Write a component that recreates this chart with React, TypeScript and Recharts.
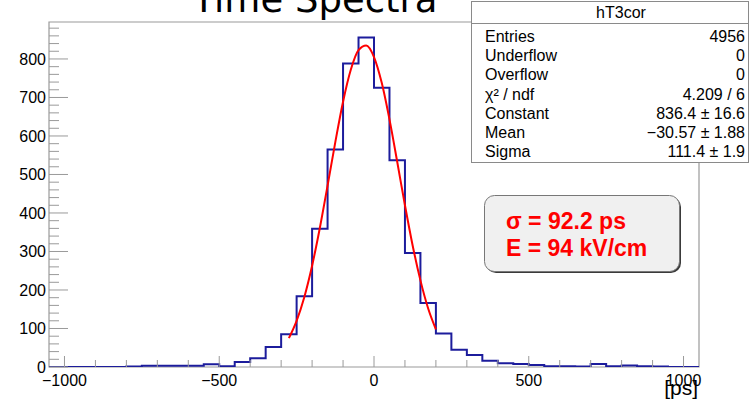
import React from "react";
import { ComposedChart, Line, XAxis, YAxis, ReferenceArea } from "recharts";

// bin edges of the histogram (50 ps bins)
const binEdges = [
  -1050, -1000, -950, -900, -850, -800, -750, -700, -650, -600, -550, -500, -450, -400,
  -350, -300, -250, -200, -150, -100, -50, 0, 50, 100, 150, 200, 250, 300, 350, 400, 450,
  500, 550, 600, 650, 700, 750, 800, 850, 900, 950, 1000, 1050,
];

// counts per bin
const counts = [
  0, 0, 0, 0, 0, 1, 3, 3, 3, 3, 7, 2, 13, 23, 52, 85, 184, 359, 565, 788, 856, 725, 537,
  296, 166, 87, 45, 31, 16, 10, 8, 5, 2, 2, 1, 8, 2, 4, 2, 1, 0, 0,
];

// gaussian fit curve
const fitX = [
  -275, -250, -225, -200, -175, -150, -125, -100, -75, -50, -25, 0, 25, 50, 75, 100, 125,
  150, 175, 200,
];
const fitY = [
  75, 120, 182, 263, 361, 471, 584, 689, 772, 823, 835, 805, 738, 643, 533, 420, 315, 225,
  152, 98,
];

const xTicks = [
  -1000, -900, -800, -700, -600, -500, -400, -300, -200, -100, 0, 100, 200, 300, 400, 500,
  600, 700, 800, 900, 1000,
];
const yTicks = [
  0, 20, 40, 60, 80, 100, 120, 140, 160, 180, 200, 220, 240, 260, 280, 300, 320, 340, 360,
  380, 400, 420, 440, 460, 480, 500, 520, 540, 560, 580, 600, 620, 640, 660, 680, 700, 720,
  740, 760, 780, 800, 820, 840, 860, 880,
];

const statsLabels = ["Entries", "Underflow", "Overflow", "χ² / ndf", "Constant", "Mean", "Sigma"];
const statsValues = ["4956", "0", "0", "4.209 / 6", "836.4 ± 16.6", "−30.57 ± 1.88", "111.4 ± 1.9"];

const W = 749;
const H = 401;
const FONT = "'Liberation Sans', Arial, Helvetica, sans-serif";
const AXIS = "#9a9a9a";

const histData = binEdges.map((x, i) => ({ x, count: i < counts.length ? counts[i] : 0 }));
const fitData = fitX.map((x, i) => ({ x, fit: fitY[i] }));

function fmt(v: number) {
  return v < 0 ? `\u2212${Math.abs(v)}` : `${v}`;
}

function YTick({ x, y, payload }: any) {
  const v = payload.value;
  const major = v % 100 === 0;
  return (
    <g>
      <line x1={x} x2={x + (major ? 19 : 10)} y1={y} y2={y} stroke={AXIS} />
      {major && (
        <text x={x - 3} y={y + 5.7} textAnchor="end" fontSize={16} fontFamily={FONT} fill="#000">
          {v}
        </text>
      )}
    </g>
  );
}

function XTick({ x, y, payload }: any) {
  const v = payload.value;
  const major = v % 500 === 0;
  return (
    <g>
      <line x1={x} x2={x} y1={y} y2={y - (major ? 11 : 7)} stroke={AXIS} />
      {major && (
        <text x={x} y={y + 19} textAnchor="middle" fontSize={16} fontFamily={FONT} fill="#000">
          {fmt(v)}
        </text>
      )}
    </g>
  );
}

export default function App() {
  return (
    <div
      style={{
        position: "fixed",
        left: 0,
        top: 0,
        width: W,
        height: H,
        overflow: "hidden",
        background: "#fff",
      }}
    >
      <ComposedChart width={W} height={H} margin={{ top: 22, right: 50, bottom: 0, left: 0 }}>
        <XAxis
          type="number"
          dataKey="x"
          domain={[-1050, 1050]}
          allowDataOverflow
          ticks={xTicks}
          interval={0}
          height={34}
          tickSize={0}
          tickMargin={0}
          tickLine={false}
          axisLine={false}
          tick={<XTick />}
        />
        <YAxis
          type="number"
          domain={[0, 896]}
          allowDataOverflow
          ticks={yTicks}
          interval={0}
          width={49}
          tickSize={0}
          tickMargin={0}
          tickLine={false}
          axisLine={false}
          tick={<YTick />}
        />
        <ReferenceArea x1={-1050} x2={1050} y1={0} y2={896} fill="none" stroke={AXIS} strokeWidth={1.2} />
        <Line
          data={histData}
          dataKey="count"
          type="stepAfter"
          stroke="#1c1c9c"
          strokeWidth={2}
          dot={false}
          isAnimationActive={false}
        />
        <Line
          data={fitData}
          dataKey="fit"
          type="monotone"
          stroke="#ff0000"
          strokeWidth={2}
          dot={false}
          isAnimationActive={false}
        />
      </ComposedChart>

      <svg
        width={W}
        height={H}
        style={{ position: "absolute", left: 0, top: 0, pointerEvents: "none" }}
      >
        <text x={315} y={12} textAnchor="middle" fontSize={37} fontFamily="'DejaVu Sans', sans-serif" fill="#000">
          Time Spectra
        </text>

        <rect x={471.5} y={1.5} width={277} height={161} fill="#fff" stroke="#8a8a8a" />
        <line x1={471.5} x2={748.5} y1={23.5} y2={23.5} stroke="#8a8a8a" />
        <text x={621} y={18} textAnchor="middle" fontSize={16} fontFamily={FONT} fill="#000">
          hT3cor
        </text>
        {statsLabels.map((label, i) => (
          <g key={label}>
            <text x={485} y={42 + i * 19.2} fontSize={16} fontFamily={FONT} fill="#000">
              {label}
            </text>
            <text x={745} y={42 + i * 19.2} textAnchor="end" fontSize={16} fontFamily={FONT} fill="#000">
              {statsValues[i]}
            </text>
          </g>
        ))}

        <rect x={486} y={197} width={195} height={76} rx={10} fill="#3a3a3a" />
        <rect x={484.5} y={195.5} width={195} height={76} rx={10} fill="#f0f0f0" stroke="#777" />
        <text x={506} y={229} fontSize={23} fontWeight="bold" fontFamily={FONT} fill="#ff0000">
          σ = 92.2 ps
        </text>
        <text x={506} y={256} fontSize={23} fontWeight="bold" fontFamily={FONT} fill="#ff0000">
          E = 94 kV/cm
        </text>

        <text x={698} y={395} textAnchor="end" fontSize={21} fontFamily={FONT} fill="#000">
          [ps]
        </text>
      </svg>
    </div>
  );
}
